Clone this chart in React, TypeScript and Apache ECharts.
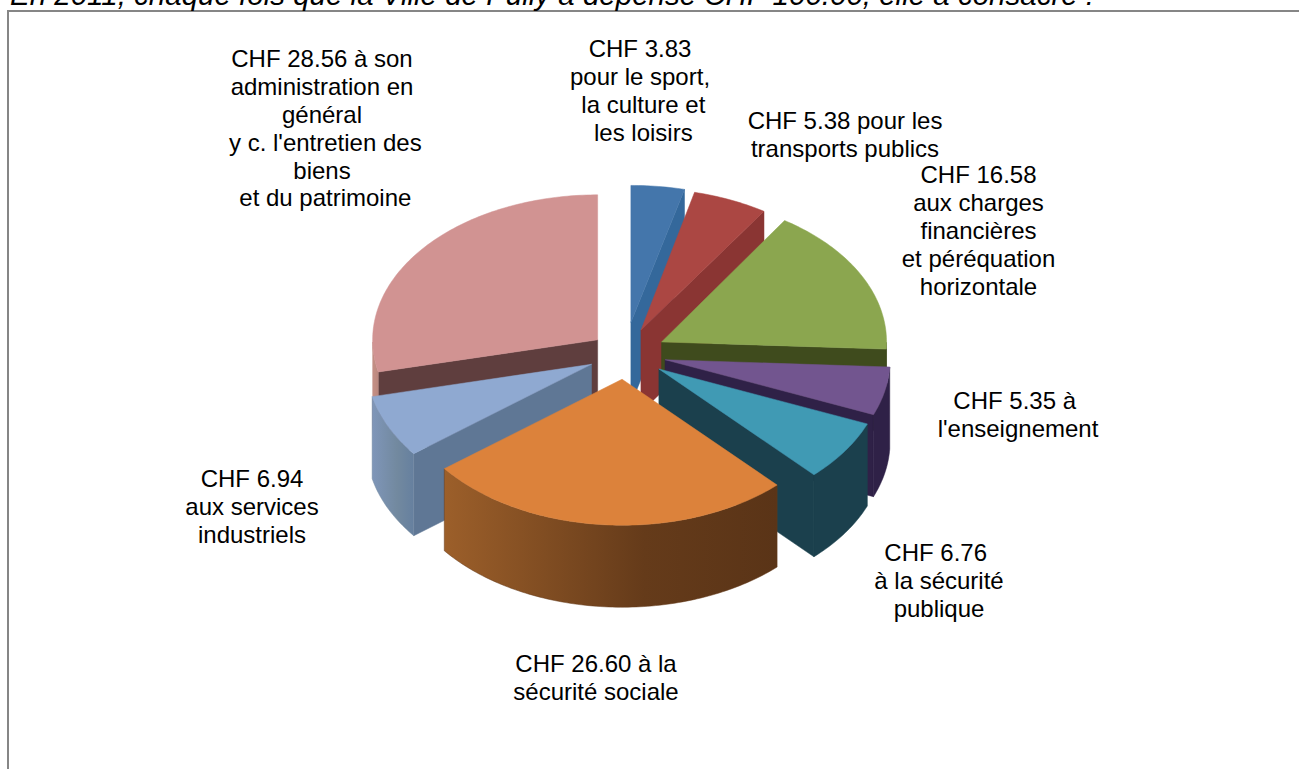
import React, { useEffect, useRef } from "react";
import * as echarts from "echarts";

const titleText = "En 2011, chaque fois que la Ville de Pully a dépensé CHF 100.00, elle a consacré :";
const categories = ["Sport, culture et loisirs", "Transports publics", "Charges financières", "Enseignement", "Sécurité publique", "Sécurité sociale", "Services industriels", "Administration"];
const values = [3.83, 5.38, 16.58, 5.35, 6.76, 26.6, 6.94, 28.56];
const labels = [
  "CHF 3.83\npour le sport,\n la culture et\n les loisirs",
  "CHF 5.38 pour les\ntransports publics",
  "CHF 16.58\naux charges\nfinancières\net péréquation\nhorizontale",
  "CHF 5.35 à \nl'enseignement",
  "CHF 6.76 \nà la sécurité\npublique",
  "CHF 26.60 à la\nsécurité sociale",
  "CHF 6.94\naux services\nindustriels",
  "CHF 28.56 à son\nadministration en\ngénéral\n y c. l'entretien des\nbiens\n et du patrimoine",
];

// layout and styles
const cx = 625, cy = 354, rx = 225, ry = 146, depth = 82;
const explode = [49, 40, 41, 41, 41, 39, 37, 35];
const sliceRy = [137, 142, 145, 146, 146, 146, 146, 145];
const paintOrder = [7, 0, 1, 2, 3, 4, 6, 5];
const topColors = ["#4476ab", "#ab4743", "#8ba64f", "#72558f", "#409ab4", "#dc823b", "#8fa9d1", "#d19392"];
const cutColors = ["#34689b", "#8a3533", "#3f4b1d", "#2f2147", "#1b404d", "#5a3417", "#5f7795", "#5f3e3e"];
const wallColors: string[][] = [
  ["#34689b", "#34689b", "#34689b"], ["#8a3533", "#8a3533", "#8a3533"], ["#3f4b1d", "#3f4b1d", "#3f4b1d"], ["#2f2147", "#2f2147", "#2f2147"],
  ["#1b404d", "#1b404d", "#1b404d"], ["#9c5f2a", "#653b1a", "#5a3417"], ["#7f96b9", "#72899f", "#66809f"], ["#c59086", "#bf8b81", "#b9867d"],
];
const labelPos = [[640, 35], [845, 107], [978.5, 161], [1018, 387], [939, 539], [596, 650], [252, 465], [322, 45]];
const fontSize = 24, lineH = 27.8;

const total = values.reduce((a, b) => a + b, 0);

function renderSlice(_p: any, api: any) {
  const i = api.value(0);
  const before = values.slice(0, i).reduce((a, b) => a + b, 0);
  const a0 = (before / total) * 360;
  const a1 = ((before + values[i]) / total) * 360;
  const mid = (((a0 + a1) / 2) * Math.PI) / 180;
  const ax = cx + explode[i] * Math.sin(mid);
  const ay = cy - explode[i] * (ry / rx) * Math.cos(mid);
  const rim = (deg: number) => {
    const t = (deg * Math.PI) / 180;
    return [ax + rx * Math.sin(t), ay - sliceRy[i] * Math.cos(t)];
  };
  const arc: number[][] = [];
  for (let d = a0; d < a1; d += 1) arc.push(rim(d));
  arc.push(rim(a1));
  const down = (p: number[]) => [p[0], p[1] + depth];
  const apex = [ax, ay];
  const children: any[] = [];
  const poly = (points: number[][], fill: any, stroke?: string) => ({
    type: "polygon",
    shape: { points },
    style: { fill, stroke: stroke ?? fill, lineWidth: 0.5 },
  });
  const sin0 = Math.sin((a0 * Math.PI) / 180), sin1 = Math.sin((a1 * Math.PI) / 180);
  if (sin0 < 0) {
    const e = arc[0];
    children.push(poly([apex, e, down(e), down(apex)], cutColors[i]));
  }
  if (sin1 > 0) {
    const e = arc[arc.length - 1];
    children.push(poly([apex, e, down(e), down(apex)], cutColors[i]));
  }
  const front = arc.filter((_, k) => {
    const d = Math.min(a0 + k, a1);
    return d >= 90 && d <= 270;
  });
  if (front.length > 1) {
    const fill = new echarts.graphic.LinearGradient(0, 0, 1, 0, [
      { offset: 0, color: wallColors[i][0] },
      { offset: 0.6, color: wallColors[i][1] },
      { offset: 1, color: wallColors[i][2] },
    ]);
    children.push(poly([...front, ...front.map(down).reverse()], fill, wallColors[i][1]));
  } else if (a0 < 270 && a1 > 270) {
    const wall = arc.filter((_, k) => Math.min(a0 + k, a1) <= 270);
    children.push(poly([...wall, ...wall.map(down).reverse()], wallColors[i][0]));
  }
  children.push(poly([apex, ...arc], topColors[i]));
  return { type: "group", children };
}

export default function App() {
  const ref = useRef<HTMLDivElement>(null);
  useEffect(() => {
    document.body.style.margin = "0";
    const chart = echarts.init(ref.current!, undefined, { renderer: "svg" });
    chart.setOption({
      animation: false,
      backgroundColor: "#ffffff",
      graphic: [
        { type: "rect", z: 0, shape: { x: 8, y: 11, width: 1320, height: 790 }, style: { fill: "#fff", stroke: "#868686", lineWidth: 2 } },
        { type: "text", z: 5, x: 10, y: -21, style: { text: titleText, fill: "#000", font: "italic 29.5px 'Liberation Sans'" } },
        ...labels.map((t, i) => ({
          type: "text",
          z: 5,
          x: labelPos[i][0],
          y: labelPos[i][1],
          style: { text: t, fill: "#000", font: `${fontSize}px 'Liberation Sans'`, lineHeight: lineH, align: "center", verticalAlign: "top" },
        })),
      ],
      series: [
        {
          type: "custom",
          coordinateSystem: "none",
          z: 3,
          renderItem: renderSlice,
          data: paintOrder.map((i) => ({ name: categories[i], value: [i, values[i]] })),
        },
      ],
    });
    return () => chart.dispose();
  }, []);
  return <div ref={ref} style={{ width: 1299, height: 769 }} />;
}
